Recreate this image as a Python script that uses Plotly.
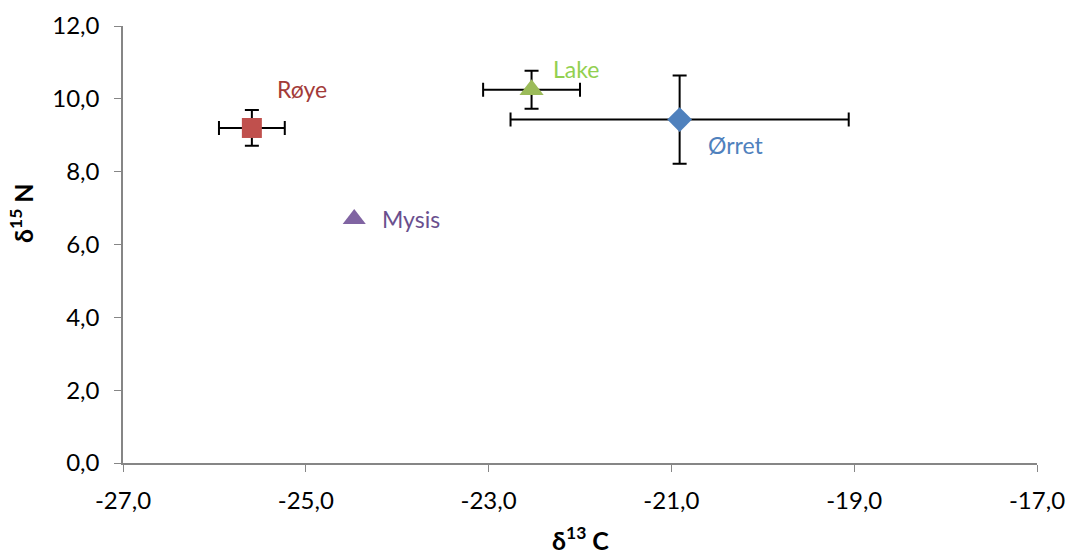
import plotly.graph_objects as go

species = ["Røye", "Mysis", "Lake", "Ørret"]
d13c = [-25.59, -24.47, -22.53, -20.91]
d15n = [9.20, 6.70, 10.25, 9.43]
err_c = [0.36, None, 0.53, 1.85]
err_n = [0.49, None, 0.52, 1.21]

x_ticks = [-27, -25, -23, -21, -19, -17]
y_ticks = [0, 2, 4, 6, 8, 10, 12]

marker_colors = ["#C0504D", "#8064A2", "#9BBB59", "#4F81BD"]
text_colors = ["#A33B39", "#6A4F8E", "#92D050", "#4F81BD"]
symbols = ["square", "triangle-up", "triangle-up", "diamond"]
sizes = [20, 20, 21, 19]
label_shift = [(23, 39), (26, 0), (19, 21), (26, -25)]

FONT = "Lato"
fig = go.Figure()
for i, name in enumerate(species):
    kw = {}
    if err_c[i] is not None:
        kw["error_x"] = dict(type="data", array=[err_c[i]], color="black", thickness=2, width=7)
        kw["error_y"] = dict(type="data", array=[err_n[i]], color="black", thickness=2, width=7)
    fig.add_trace(go.Scatter(
        x=[d13c[i]], y=[d15n[i]], mode="markers", name=name,
        marker=dict(symbol=symbols[i], size=sizes[i], color=marker_colors[i], line=dict(width=0)),
        showlegend=False, **kw))
    fig.add_annotation(x=d13c[i], y=d15n[i], text=name, showarrow=False,
                       xanchor="left", yanchor="middle",
                       xshift=label_shift[i][0], yshift=label_shift[i][1],
                       font=dict(family=FONT, size=23, color=text_colors[i]))

fig.add_annotation(xref="paper", yref="paper", x=(580 - 123) / 914, y=(463 - 538) / 437,
                   text="<b>δ<sup>13</sup> C</b>", showarrow=False,
                   xanchor="center", yanchor="middle", font=dict(family=FONT, size=25, color="black"))
fig.add_annotation(xref="paper", yref="paper", x=(22 - 123) / 914, y=(463 - 213) / 437,
                   text="<b>δ<sup>15</sup> N</b>", showarrow=False, textangle=-90,
                   xanchor="center", yanchor="middle", font=dict(family=FONT, size=25, color="black"))

fig.update_layout(
    width=1069, height=554,
    margin=dict(l=123, r=32, t=26, b=91, autoexpand=False),
    paper_bgcolor="white", plot_bgcolor="white",
    font=dict(family=FONT, size=24, color="black"),
    xaxis=dict(range=[-27, -17], tickvals=x_ticks,
               ticktext=[f"{v:.1f}".replace(".", ",") for v in x_ticks],
               showgrid=False, zeroline=False, showline=True, linecolor="#868686", linewidth=1.5,
               ticks="outside", ticklen=7, tickcolor="#868686", ticklabelstandoff=8,
               ticklabeloverflow="allow", automargin=False),
    yaxis=dict(range=[0, 12], tickvals=y_ticks,
               ticktext=[f"{v:.1f}".replace(".", ",") for v in y_ticks],
               showgrid=False, zeroline=False, showline=True, linecolor="#868686", linewidth=1.5,
               ticks="outside", ticklen=7, tickcolor="#868686", ticklabelstandoff=10,
               ticklabeloverflow="allow", automargin=False),
)
fig.write_html("out.html")
